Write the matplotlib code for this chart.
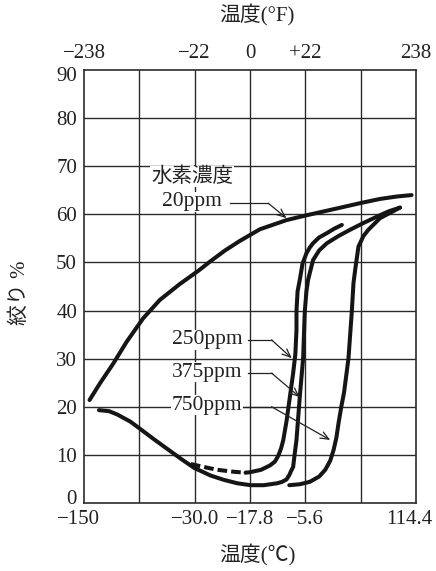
import matplotlib
matplotlib.use("Agg")
import matplotlib.pyplot as plt
import matplotlib.transforms as mtrans

plt.rcParams["font.family"] = ["Liberation Serif", "Noto Sans CJK JP"]

# x is the position on the (non-linear) temperature grid, one unit per column
C_TICK_POS = [0, 2, 3, 4, 6]
C_TICK_LABELS = ["\u2212150", "\u221230.0", "\u221217.8", "\u22125.6", "114.4"]
F_TICK_LABELS = ["\u2212238", "\u221222", "0", "+22", "238"]
Y_TICKS = list(range(0, 100, 10))

ppm20_x = [0.10, 0.29, 0.53, 0.77, 1.07, 1.37, 1.73, 2.07, 2.28, 2.55, 2.82,
           3.18, 3.66, 4.02, 4.60, 5.02, 5.35, 5.65, 5.92]
ppm20_y = [21.4, 24.9, 29.0, 33.5, 38.4, 42.2, 45.5, 48.3, 50.2, 52.5, 54.5,
           56.9, 58.8, 59.8, 61.3, 62.4, 63.2, 63.7, 64.0]

ppm250_dash_x = [1.93, 2.20, 2.41, 2.70, 2.92]
ppm250_dash_y = [8.1, 7.4, 6.9, 6.5, 6.3]
ppm250_x = [2.92, 3.00, 3.20, 3.36, 3.45, 3.51, 3.56, 3.60, 3.66, 3.72, 3.78,
            3.82, 3.84, 3.84, 3.86, 3.90, 3.95, 4.02, 4.08, 4.14, 4.25, 4.39,
            4.52, 4.66]
ppm250_y = [6.3, 6.4, 6.9, 7.8, 8.6, 9.8, 11.3, 13.0, 17.0, 22.0, 27.0,
            31.0, 36.0, 40.0, 44.0, 46.4, 49.8, 51.9, 53.1, 54.0, 55.2, 56.1,
            57.0, 57.8]

ppm375_x = [0.27, 0.45, 0.60, 0.84, 1.05, 1.27, 1.51, 1.75, 1.99, 2.29, 2.53,
            2.77, 3.01, 3.25, 3.49, 3.58, 3.66, 3.71, 3.74, 3.78, 3.80, 3.84,
            3.90, 3.96, 3.99, 4.02, 4.05, 4.14, 4.25, 4.39, 4.60, 4.81, 5.05,
            5.29, 5.50, 5.71]
ppm375_y = [19.3, 19.1, 18.4, 16.9, 15.1, 13.2, 11.2, 9.2, 7.3, 5.7, 4.8,
            4.1, 3.7, 3.7, 4.1, 4.4, 4.9, 5.8, 6.6, 7.5, 9.5, 13.1,
            22.1, 30.1, 39.8, 44.0, 46.4, 50.5, 52.5, 54.0, 55.5, 56.8, 58.2,
            59.5, 60.6, 61.4]

ppm750_x = [3.71, 3.90, 4.08, 4.25, 4.36, 4.45, 4.51, 4.56, 4.60, 4.65, 4.70,
            4.78, 4.84, 4.87, 4.90, 4.96, 5.05, 5.14, 5.35, 5.58, 5.71]
ppm750_y = [3.7, 3.9, 4.4, 5.5, 6.9, 8.8, 11.0, 13.5, 16.6, 20.0, 23.0,
            30.1, 39.8, 45.7, 48.4, 53.3, 55.5, 56.8, 59.2, 60.6, 61.4]

# label text, text position, leader bend start/end, arrow tip
labels = [
    ("20ppm", (1.95, 62.6), (2.64, 3.33, 62.3), (3.66, 59.2)),
    ("250ppm", (2.22, 33.9), (2.97, 3.39, 33.9), (3.755, 30.1)),
    ("375ppm", (2.22, 27.2), (2.97, 3.39, 27.0), (3.90, 22.0)),
    ("750ppm", (2.22, 20.3), (2.88, 3.39, 20.0), (4.45, 13.1)),
]

fig = plt.figure(figsize=(4.36, 5.71), dpi=100)
ax = fig.add_axes([84 / 436, 68 / 571, 332 / 436, 433 / 571])
ax.set_xlim(0, 6)
ax.set_ylim(0, 90)

grid_c = "#2b2b2b"
txt_c = "#222222"
for gx in range(1, 6):
    ax.axvline(gx, color=grid_c, lw=1.0, zorder=1)
for gy in range(10, 90, 10):
    ax.axhline(gy, color=grid_c, lw=1.0, zorder=1)
for s in ax.spines.values():
    s.set_color(grid_c)
    s.set_linewidth(1.2)

ax.set_xticks(C_TICK_POS)
ax.set_xticklabels(C_TICK_LABELS)
ax.set_yticks(Y_TICKS)
ax.tick_params(length=0, labelsize=15, colors=txt_c)
ax.tick_params(axis="x", pad=5)
ax.tick_params(axis="y", pad=5)

top = ax.secondary_xaxis("top")
top.set_xticks(C_TICK_POS)
top.set_xticklabels(F_TICK_LABELS)
top.tick_params(length=0, labelsize=15, colors=txt_c, pad=5)
for s in top.spines.values():
    s.set_visible(False)

# nudge a few tick labels like the printed figure
def nudge(lbl, dx, dy):
    lbl.set_transform(lbl.get_transform()
                      + mtrans.ScaledTranslation(dx / 100, dy / 100, fig.dpi_scale_trans))

xl = ax.get_xticklabels()
nudge(xl[0], -6, 0)
nudge(xl[-1], -7, 0)
yl_ = ax.get_yticklabels()
nudge(yl_[0], 0, 6)
nudge(yl_[-1], 0, -4)

lw = 2.9
kw = dict(color="#151515", lw=lw, solid_capstyle="round", solid_joinstyle="round", zorder=3)
ax.plot(ppm20_x, ppm20_y, **kw)
ax.plot(ppm250_x, ppm250_y, **kw)
ax.plot(ppm375_x, ppm375_y, **kw)
ax.plot(ppm750_x, ppm750_y, **kw)
ax.plot(ppm250_dash_x, ppm250_dash_y, color="#151515", lw=lw, ls=(0, (2.4, 1.0)),
        dash_capstyle="butt", zorder=3)

bbox = dict(facecolor="white", edgecolor="none", pad=0.5)
ax.text(1.95, 67.8, "水素濃度", ha="center", va="center", fontsize=14.8,
        color=txt_c, bbox=bbox, zorder=4)
for txt, (tx, ty), (x0, x1, yl), tip in labels:
    ax.text(tx, ty, txt, ha="center", va="center", fontsize=15.5,
            color=txt_c, bbox=bbox, zorder=4)
    ax.plot([x0, x1], [yl, yl], color=txt_c, lw=0.9, zorder=5)
    ax.annotate("", xy=tip, xytext=(x1, yl),
                arrowprops=dict(arrowstyle="->,head_length=0.6,head_width=0.25",
                                color=txt_c, lw=0.9, shrinkA=0, shrinkB=0),
                zorder=5)

fig.text(257 / 436, 1 - 15 / 571, "温度(°F)", ha="center", va="center",
         fontsize=15, color=txt_c)
fig.text(257 / 436, 1 - 555 / 571, "温度(℃)", ha="center", va="center",
         fontsize=15, color=txt_c)
fig.text(20 / 436, 1 - 293 / 571, "絞り %", ha="center", va="center",
         rotation=90, fontsize=15, color=txt_c)

fig.savefig("out.png", dpi=100)
